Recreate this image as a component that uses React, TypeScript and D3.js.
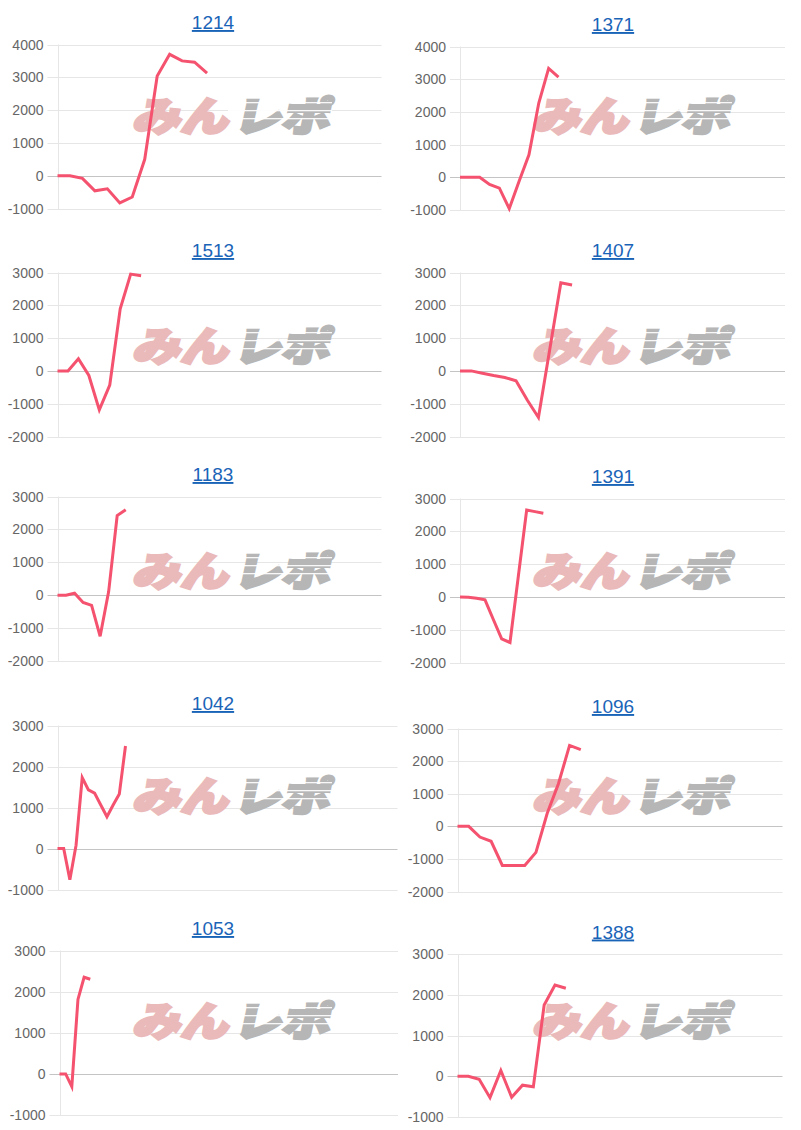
import React from 'react';
import * as d3 from 'd3';

const titles = ['1214', '1371', '1513', '1407', '1183', '1391', '1042', '1096', '1053', '1388'];

const values1214 = [0, 0, -80, -460, -400, -830, -650, 500, 3040, 3700, 3500, 3460, 3130];
const values1371 = [0, 0, 0, -220, -330, -960, -120, 690, 2270, 3330, 3060];
const values1513 = [0, 0, 370, -140, -1190, -430, 1890, 2950, 2900];
const values1407 = [0, 0, -70, -140, -200, -300, -890, -1420, 640, 2690, 2620];
const values1183 = [0, 0, 60, -220, -310, -1250, 110, 2420, 2600];
const values1391 = [0, -10, -40, -90, -690, -1280, -1390, 630, 2650, 2600, 2550];
const values1042 = [0, 0, -760, 80, 1730, 1430, 1350, 1060, 775, 1060, 1330, 2500];
const values1096 = [0, 0, -330, -460, -1200, -1200, -1200, -800, 390, 1300, 2480, 2350];
const values1053 = [0, 0, -310, 1810, 2350, 2300];
const values1388 = [0, 0, -75, -525, 140, -515, -220, -260, 1750, 2240, 2160];

const seriesValues = [values1214, values1371, values1513, values1407, values1183, values1391, values1042, values1096, values1053, values1388];

// number of x-axis categories per chart
const slotCounts = [27, 34, 32, 30, 39, 40, 56, 30, 56, 31];

const yMins = [-1000, -1000, -2000, -2000, -2000, -2000, -1000, -2000, -1000, -1000];
const yMaxs = [4000, 4000, 3000, 3000, 3000, 3000, 3000, 3000, 3000, 3000];
const tickStep = 1000;

// layout (page coordinates): plot left, right, top, bottom
const plotBoxes = [
  [57.5, 381.5, 44.5, 208.5],
  [460, 785, 46.5, 210],
  [57.5, 381.5, 272.5, 436.5],
  [460, 785, 272.5, 436.5],
  [57.5, 381.5, 496.5, 661],
  [460, 785, 498.5, 662.5],
  [57.5, 397.5, 725.5, 889.5],
  [457.5, 782.5, 728.5, 891.5],
  [59.5, 398, 950.5, 1115],
  [457.5, 782.5, 954, 1117],
];
const panelOrigins = [
  [0, 0], [400, 0], [0, 230], [400, 230], [0, 455], [400, 455], [0, 680], [400, 680], [0, 905], [400, 905],
];

const LINE_COLOR = '#f4526e';
const FONT = 'Arial, "Liberation Sans", Helvetica, sans-serif';

function Watermark({ ox, oy }: { ox: number; oy: number }) {
  const x0 = ox + 132;
  const y0 = oy + 131;
  const shift = y0 * Math.tan((12 * Math.PI) / 180);
  const common = {
    fontFamily: '"Noto Sans CJK JP", sans-serif',
    fontWeight: 900,
    fontSize: 40,
    lengthAdjust: 'spacingAndGlyphs' as const,
    strokeWidth: 3,
    strokeLinejoin: 'miter' as const,
    transform: `skewX(-12) translate(${shift},0)`,
  };
  return (
    <g>
      <text x={x0} y={y0} fill="#eab9b9" stroke="#eab9b9" textLength={96} {...common}>
        みん
      </text>
      <text x={x0 + 101} y={y0} fill="#b6b6b6" stroke="#b6b6b6" textLength={96} {...common}>
        レポ
      </text>
      {[7, 15, 23].map((d, i) => (
        <rect key={i} x={x0 + 96} y={y0 - 36 + d} width={104} height={1.3} fill="#ffffff" opacity={0.9} />
      ))}
    </g>
  );
}

function Panel({ idx }: { idx: number }) {
  const [left, right, top, bottom] = plotBoxes[idx];
  const [ox, oy] = panelOrigins[idx];
  const values = seriesValues[idx];
  const slots = d3.range(slotCounts[idx]).map(String);
  const x = d3.scalePoint<string>().domain(slots).range([left, right]).padding(0);
  const y = d3.scaleLinear().domain([yMins[idx], yMaxs[idx]]).range([bottom, top]);
  const ticks = d3.range(yMins[idx], yMaxs[idx] + 1, tickStep);
  const line = d3
    .line<number>()
    .x((_, i) => x(String(i)) as number)
    .y((d) => y(d));
  const titleX = ox + 213;
  return (
    <g>
      {ticks.map((t) => (
        <line
          key={t}
          x1={left - 10}
          x2={right}
          y1={Math.round(y(t)) + 0.5}
          y2={Math.round(y(t)) + 0.5}
          stroke={t === 0 ? '#c4c4c4' : '#e6e6e6'}
          strokeWidth={1}
        />
      ))}
      <line x1={Math.round(left) + 0.5} x2={Math.round(left) + 0.5} y1={top} y2={bottom + 1} stroke="#e6e6e6" />
      {ticks.map((t) => (
        <text
          key={'l' + t}
          x={left - 14}
          y={y(t)}
          dy="0.36em"
          textAnchor="end"
          fontFamily={FONT}
          fontSize={14}
          fill="#666666"
        >
          {t}
        </text>
      ))}
      <Watermark ox={ox} oy={oy} />
      <path d={line(values) || ''} fill="none" stroke={LINE_COLOR} strokeWidth={3} strokeLinejoin="miter" />
      <text
        x={titleX}
        y={top - 15.5}
        textAnchor="middle"
        fontFamily={FONT}
        fontSize={19}
        fill="#1a64b8"
        textDecoration="underline"
        style={{ textDecoration: 'underline' }}
      >
        {titles[idx]}
      </text>
    </g>
  );
}

export default function App() {
  return (
    <svg
      width={801}
      height={1130}
      viewBox="0 0 801 1130"
      style={{ position: 'absolute', left: 0, top: 0, background: '#ffffff' }}
    >
      <rect x={0} y={0} width={801} height={1130} fill="#ffffff" />
      {titles.map((_, i) => (
        <Panel key={i} idx={i} />
      ))}
    </svg>
  );
}
